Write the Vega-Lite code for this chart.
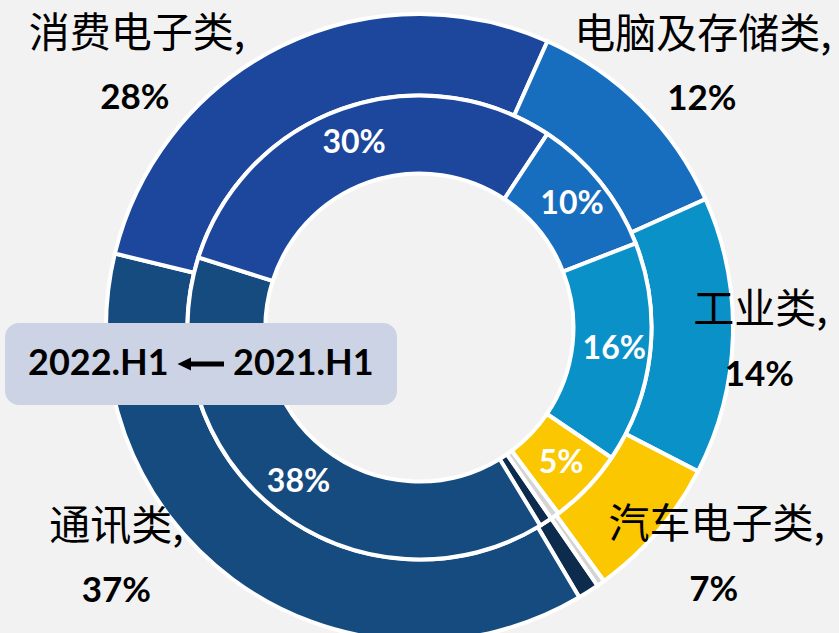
{
  "$schema": "https://vega.github.io/schema/vega-lite/v6.json",
  "width": 839,
  "height": 611,
  "autosize": {"type": "none"},
  "padding": {"left": 0, "top": 22, "right": 0, "bottom": 0},
  "background": "#F2F2F2",
  "config": {"view": {"stroke": null}},
  "data": {
    "values": [
      {"ring": "2022.H1", "category": "其他", "idx": 1, "value": 1.1, "label": ""},
      {"ring": "2022.H1", "category": "通讯类", "idx": 2, "value": 37.3, "label": "37%"},
      {"ring": "2022.H1", "category": "消费电子类", "idx": 3, "value": 27.9, "label": "28%"},
      {"ring": "2022.H1", "category": "电脑及存储类", "idx": 4, "value": 11.6, "label": "12%"},
      {"ring": "2022.H1", "category": "工业类", "idx": 5, "value": 14.3, "label": "14%"},
      {"ring": "2022.H1", "category": "汽车电子类", "idx": 6, "value": 7.4, "label": "7%"},
      {"ring": "2022.H1", "category": "未分类", "idx": 7, "value": 0.4, "label": ""},
      {"ring": "2021.H1", "category": "其他", "idx": 1, "value": 0.9, "label": ""},
      {"ring": "2021.H1", "category": "通讯类", "idx": 2, "value": 38.6, "label": "38%"},
      {"ring": "2021.H1", "category": "消费电子类", "idx": 3, "value": 29.4, "label": "30%"},
      {"ring": "2021.H1", "category": "电脑及存储类", "idx": 4, "value": 9.8, "label": "10%"},
      {"ring": "2021.H1", "category": "工业类", "idx": 5, "value": 15.4, "label": "16%"},
      {"ring": "2021.H1", "category": "汽车电子类", "idx": 6, "value": 5.3, "label": "5%"},
      {"ring": "2021.H1", "category": "未分类", "idx": 7, "value": 0.6, "label": ""}
    ]
  },
  "layer": [
    {
      "transform": [{"filter": "datum.ring === '2022.H1'"}],
      "mark": {"type": "arc", "outerRadius": 313.5, "innerRadius": 232, "stroke": "white", "strokeWidth": 4},
      "encoding": {
        "theta": {"field": "value", "type": "quantitative", "stack": true, "scale": {"domain": [0, 100], "range": [2.53772, 8.8209]}},
        "order": {"field": "idx", "type": "quantitative"},
        "color": {"field": "category", "type": "nominal", "legend": null,
          "scale": {"domain": ["其他", "通讯类", "消费电子类", "电脑及存储类", "工业类", "汽车电子类", "未分类"],
                    "range": ["#0D2C4D", "#154B7F", "#1C479D", "#176DBE", "#0A91C8", "#FAC700", "#D4D4D4"]}}
      }
    },
    {
      "transform": [{"filter": "datum.ring === '2021.H1'"}],
      "mark": {"type": "arc", "outerRadius": 232, "innerRadius": 154, "stroke": "white", "strokeWidth": 4},
      "encoding": {
        "theta": {"field": "value", "type": "quantitative", "stack": true, "scale": {"domain": [0, 100], "range": [2.53772, 8.8209]}},
        "order": {"field": "idx", "type": "quantitative"},
        "color": {"field": "category", "type": "nominal", "legend": null,
          "scale": {"domain": ["其他", "通讯类", "消费电子类", "电脑及存储类", "工业类", "汽车电子类", "未分类"],
                    "range": ["#0D2C4D", "#154B7F", "#1C479D", "#176DBE", "#0A91C8", "#FAC700", "#D4D4D4"]}}
      }
    },
    {
      "transform": [{"filter": "datum.ring === '2021.H1'"}],
      "mark": {"type": "text", "radius": 196, "font": "Lato", "fontSize": 32, "fontWeight": "bold", "fill": "white", "align": "center", "baseline": "middle"},
      "encoding": {
        "theta": {"field": "value", "type": "quantitative", "stack": true, "scale": {"domain": [0, 100], "range": [2.53772, 8.8209]}},
        "order": {"field": "idx", "type": "quantitative"},
        "detail": {"field": "category", "type": "nominal"},
        "text": {"field": "label", "type": "nominal"}
      }
    },
    {
      "transform": [{"filter": "datum.ring === '2022.H1'"}],
      "mark": {"type": "text", "radius": 360, "font": "Noto Sans CJK SC", "fontSize": 41, "fontWeight": "normal", "fill": "black", "align": "center", "baseline": "middle",
        "text": {"expr": "datum.label === '' ? '' : datum.category + ','"},
        "dx": {"expr": "datum.category === '消费电子类' ? -124 : datum.category === '电脑及存储类' ? 29 : datum.category === '工业类' ? -19 : datum.category === '汽车电子类' ? 24 : datum.category === '通讯类' ? -89 : 0"},
        "dy": {"expr": "datum.category === '消费电子类' ? 31 : datum.category === '电脑及存储类' ? -37 : datum.category === '工业类' ? -26 : datum.category === '汽车电子类' ? -36 : datum.category === '通讯类' ? -89 : 0"}
      },
      "encoding": {
        "theta": {"field": "value", "type": "quantitative", "stack": true, "scale": {"domain": [0, 100], "range": [2.53772, 8.8209]}},
        "order": {"field": "idx", "type": "quantitative"},
        "detail": {"field": "category", "type": "nominal"}
      }
    },
    {
      "transform": [{"filter": "datum.ring === '2022.H1'"}],
      "mark": {"type": "text", "radius": 360, "font": "Lato", "fontSize": 35, "fontWeight": "bold", "fill": "black", "align": "center", "baseline": "middle",
        "dx": {"expr": "datum.category === '消费电子类' ? -126 : datum.category === '电脑及存储类' ? 28 : datum.category === '工业类' ? -20 : datum.category === '汽车电子类' ? 21 : datum.category === '通讯类' ? -89 : 0"},
        "dy": {"expr": "datum.category === '消费电子类' ? 94 : datum.category === '电脑及存储类' ? 26 : datum.category === '工业类' ? 38 : datum.category === '汽车电子类' ? 28 : datum.category === '通讯类' ? -26 : 0"}
      },
      "encoding": {
        "theta": {"field": "value", "type": "quantitative", "stack": true, "scale": {"domain": [0, 100], "range": [2.53772, 8.8209]}},
        "order": {"field": "idx", "type": "quantitative"},
        "detail": {"field": "category", "type": "nominal"},
        "text": {"field": "label", "type": "nominal"}
      }
    },
    {
      "mark": {"type": "point", "filled": true, "color": "black", "size": 0},
      "encoding": {
        "shape": {"field": "ring", "type": "nominal",
          "scale": {"domain": ["2022.H1", "2021.H1"], "range": ["M0,0", "M-735,0L-600,-65L-600,-25L-270,-25L-270,25L-600,25L-600,65Z"]},
          "legend": {"orient": "none", "legendX": 5, "legendY": 301, "direction": "horizontal", "title": null,
            "fillColor": "#CBD3E4", "cornerRadius": 14, "padding": 23, "columnPadding": 8,
            "symbolSize": 0.04, "symbolFillColor": "black", "symbolStrokeColor": "black", "symbolStrokeWidth": 0, "symbolOpacity": 1,
            "labelFont": "Lato", "labelFontSize": 36, "labelFontWeight": "bold", "labelColor": "black", "labelOffset": -36, "labelLimit": 500}
        }
      }
    }
  ]
}
